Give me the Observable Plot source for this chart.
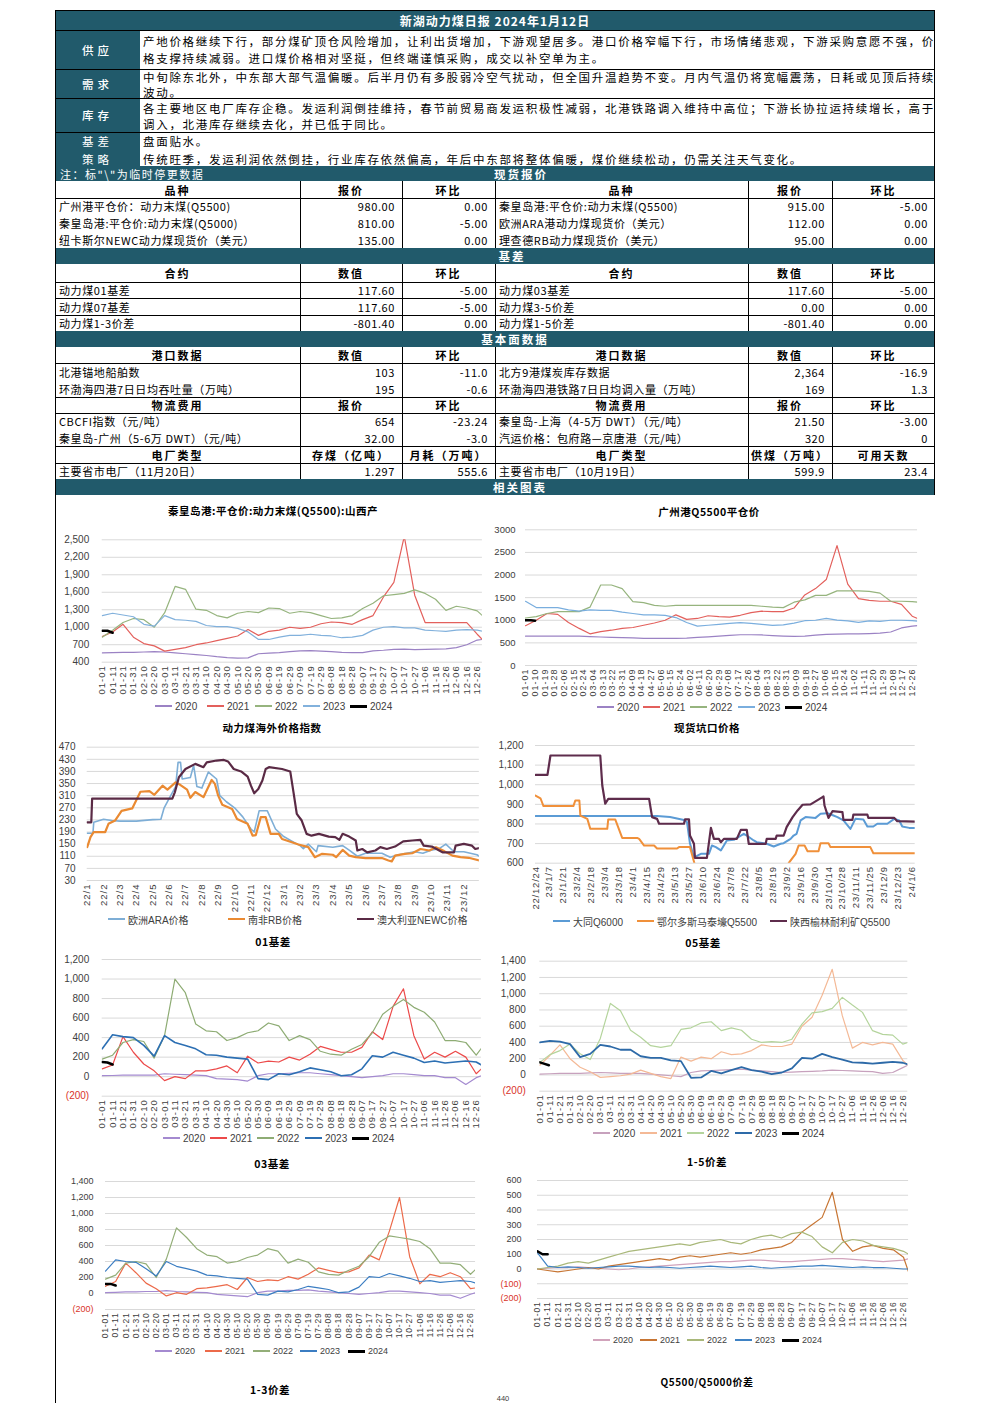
<!DOCTYPE html>
<html><head><meta charset="utf-8">
<script src="https://cdn.jsdelivr.net/npm/d3@7"></script>
<script src="https://cdn.jsdelivr.net/npm/@observablehq/plot@0.6"></script>
<style>
html,body{margin:0;padding:0;background:#fff;}
#page{position:relative;width:992px;height:1403px;overflow:hidden;background:#fff;font-family:"Noto Sans CJK SC","Noto Sans",sans-serif;color:#000;}
#page div{box-sizing:border-box;}
</style>
</head><body><div id="page"></div>
<script>
// ---------------- DATA ----------------
const reportTitle = "新湖动力煤日报 2024年1月12日";
const supplyLines = ["产地价格继续下行，部分煤矿顶仓风险增加，让利出货增加，下游观望居多。港口价格窄幅下行，市场情绪悲观，下游采购意愿不强，价","格支撑持续减弱。进口煤价格相对坚挺，但终端谨慎采购，成交以补空单为主。"];
const demandLines = ["中旬除东北外，中东部大部气温偏暖。后半月仍有多股弱冷空气扰动，但全国升温趋势不变。月内气温仍将宽幅震荡，日耗或见顶后持续","波动。"];
const stockLines = ["各主要地区电厂库存企稳。发运利润倒挂维持，春节前贸易商发运积极性减弱，北港铁路调入维持中高位；下游长协拉运持续增长，高于","调入，北港库存继续去化，并已低于同比。"];
const basisLine = "盘面贴水。";
const strategyLine = "传统旺季，发运利润依然倒挂，行业库存依然偏高，年后中东部将整体偏暖，煤价继续松动，仍需关注天气变化。";

const priceHeader = ["品种","报价","环比","品种","报价","环比"];
const priceRows = [
 ["广州港平仓价：动力末煤(Q5500)","980.00","0.00","秦皇岛港:平仓价:动力末煤(Q5500)","915.00","-5.00"],
 ["秦皇岛港:平仓价:动力末煤(Q5000)","810.00","-5.00","欧洲ARA港动力煤现货价（美元）","112.00","0.00"],
 ["纽卡斯尔NEWC动力煤现货价（美元）","135.00","0.00","理查德RB动力煤现货价（美元）","95.00","0.00"]];
const basisHeader = ["合约","数值","环比","合约","数值","环比"];
const basisRows = [
 ["动力煤01基差","117.60","-5.00","动力煤03基差","117.60","-5.00"],
 ["动力煤07基差","117.60","-5.00","动力煤3-5价差","0.00","0.00"],
 ["动力煤1-3价差","-801.40","0.00","动力煤1-5价差","-801.40","0.00"]];
const portHeader = ["港口数据","数值","环比","港口数据","数值","环比"];
const portRows = [
 ["北港锚地船舶数","103","-11.0","北方9港煤炭库存数据","2,364","-16.9"],
 ["环渤海四港7日日均吞吐量（万吨）","195","-0.6","环渤海四港铁路7日日均调入量（万吨）","169","1.3"]];
const logiHeader = ["物流费用","报价","环比","物流费用","报价","环比"];
const logiRows = [
 ["CBCFI指数（元/吨）","654","-23.24","秦皇岛-上海（4-5万 DWT）（元/吨）","21.50","-3.00"],
 ["秦皇岛-广州（5-6万 DWT）（元/吨）","32.00","-3.0","汽运价格：包府路—京唐港（元/吨）","320","0"]];
const plantHeader = ["电厂类型","存煤（亿吨）","月耗（万吨）","电厂类型","供煤（万吨）","可用天数"];
const plantRows = [["主要省市电厂（11月20日）","1.297","555.6","主要省市电厂（10月19日）","599.9","23.4"]];

const years = ["2020","2021","2022","2023","2024"];
const dayLabels10 = ["01-01","01-11","01-21","01-31","02-10","02-20","03-01","03-11","03-21","03-31","04-10","04-20","04-30","05-10","05-20","05-30","06-09","06-19","06-29","07-09","07-19","07-29","08-08","08-18","08-28","09-07","09-17","09-27","10-07","10-17","10-27","11-06","11-16","11-26","12-06","12-16","12-26"];
const dayLabels9 = ["01-01","01-10","01-19","01-28","02-06","02-15","02-24","03-04","03-13","03-22","03-31","04-09","04-18","04-27","05-06","05-15","05-24","06-02","06-11","06-20","06-29","07-08","07-17","07-26","08-04","08-13","08-22","08-31","09-09","09-18","09-27","10-06","10-15","10-24","11-02","11-11","11-20","11-29","12-08","12-17","12-26"];
const monthLabels = ["22/1","22/2","22/3","22/4","22/5","22/6","22/7","22/8","22/9","22/10","22/11","22/12","23/1","23/2","23/3","23/4","23/5","23/6","23/7","23/8","23/9","23/10","23/11","23/12"];
const pitLabels = ["22/12/24","23/1/7","23/1/21","23/2/4","23/2/18","23/3/4","23/3/18","23/4/1","23/4/15","23/4/29","23/5/13","23/5/27","23/6/10","23/6/24","23/7/8","23/7/22","23/8/5","23/8/19","23/9/2","23/9/16","23/9/30","23/10/14","23/10/28","23/11/11","23/11/25","23/12/9","23/12/23","24/1/6"];

// Chart 1: 秦皇岛港 Q5500 山西产 (values every 10 days, last = 12-31)
const qhd2020 = [560,565,570,570,575,580,575,560,545,530,515,495,480,470,475,545,555,565,580,595,600,590,580,570,565,565,595,605,620,625,615,620,625,630,650,700,780,790];
const qhd2021 = [840,920,1050,830,720,680,590,620,650,700,730,770,810,850,960,860,930,950,1000,980,1000,1060,1090,1080,1050,1130,1200,1520,1770,2560,1550,1080,1080,1080,1080,1080,880,790];
const qhd2022 = [830,950,1080,1150,1130,1000,1250,1700,1650,1310,1290,1200,1160,1240,1270,1250,1330,1320,1240,1270,1250,1200,1150,1160,1200,1320,1410,1540,1560,1580,1640,1580,1480,1290,1360,1330,1280,1200];
const qhd2023 = [1200,1240,1210,1180,1050,1020,1200,1130,1120,1100,1030,1010,1010,980,920,790,790,830,860,860,880,860,850,820,830,860,950,1000,1010,990,990,950,940,930,950,960,950,930];
const qhd2024Days = [0,5,10], qhd2024 = [940,940,905];

// Chart 2: 广州港 Q5500
const gz2020 = [650,650,650,650,650,650,640,630,620,615,610,600,600,600,600,605,620,635,650,665,680,680,675,660,650,645,650,670,690,695,700,700,705,715,740,830,870,880];
const gz2021 = [880,1000,1150,1130,950,820,700,750,780,820,840,890,940,1000,1120,1020,1040,1100,1080,1070,1110,1170,1200,1190,1190,1270,1560,1700,1900,2650,1800,1480,1440,1420,1420,1350,1090,1040];
const gz2022 = [1050,1080,1150,1190,1190,1190,1290,1780,1780,1700,1410,1390,1330,1310,1330,1330,1330,1330,1330,1330,1330,1330,1310,1290,1280,1400,1450,1550,1550,1650,1650,1650,1640,1600,1420,1420,1410,1400];
const gz2023 = [1420,1280,1280,1280,1230,1200,1230,1220,1220,1180,1150,1120,1120,1110,1060,950,870,890,910,930,950,930,910,885,900,935,990,1000,1040,1005,985,955,985,975,1000,1000,990,980];
const gz2024Days = [0,5,9], gz2024 = [1000,1000,990];

// Chart 3: overseas index, [months since 2022-01, value]
const araIdx = [[0,186],[0.35,186],[0.4,222],[1,232],[1.5,228],[2,226],[3,226],[4,231],[4.5,232],[4.7,270],[5,300],[5.4,340],[5.55,420],[5.7,420],[5.8,365],[6.3,370],[6.5,410],[6.7,340],[7,335],[7.4,388],[7.9,365],[8.1,310],[8.5,290],[9,270],[9.5,240],[10,200],[10.2,190],[10.5,260],[11,260],[11.5,200],[12,175],[12.5,160],[13,145],[13.2,135],[13.5,150],[14,125],[14.1,145],[15,140],[15.6,145],[16,130],[16.5,110],[17,120],[18,120],[18.5,107],[19,115],[19.5,120],[20,125],[20.5,120],[21,130],[21.5,135],[21.9,150],[22.4,125],[23,125],[23.8,115],[23.95,110]];
const rbIdx = [[0,140],[0.2,173],[0.4,190],[1.1,190],[1.3,217],[1.7,228],[2.1,260],[2.75,268],[3.25,323],[3.8,325],[4.1,313],[4.6,343],[4.9,330],[5.4,354],[5.7,345],[6.1,330],[6.3,303],[6.6,322],[7.1,305],[7.6,362],[7.8,349],[8,310],[8.25,280],[8.85,266],[9.15,233],[9.8,217],[10.1,178],[10.3,180],[10.6,239],[10.9,239],[11.2,184],[11.7,184],[11.9,167],[12.5,156],[12.9,149],[13.5,140],[13.9,107],[14.35,118],[15,115],[15.2,107],[15.6,131],[16,112],[16.4,107],[17,104],[18,104],[18.4,96],[18.6,93],[18.8,112],[19.4,118],[19.85,120],[20.35,134],[20.9,129],[21.3,140],[21.8,127],[22.3,112],[22.8,107],[23.3,105],[23.95,96]];
const newcIdx = [[0,222],[0.25,222],[0.3,300],[5.2,300],[5.35,321],[5.6,371],[6,398],[6.6,415],[7.1,404],[7.3,420],[7.9,426],[8.35,428],[8.6,423],[8.95,398],[9.4,390],[9.8,373],[10,343],[10.2,318],[10.45,332],[10.7,360],[10.9,398],[11.1,404],[11.9,398],[12.4,390],[12.6,321],[12.8,250],[13.1,228],[13.4,184],[13.7,178],[14.15,184],[14.75,175],[15.15,173],[15.4,164],[15.6,184],[16,175],[16.4,162],[16.5,129],[16.8,134],[17.1,123],[17.6,129],[17.9,140],[18.3,134],[18.8,142],[19.3,159],[19.85,162],[20.35,164],[20.55,145],[21.05,142],[21.5,129],[21.7,123],[22.4,123],[22.5,145],[23,151],[23.5,145],[23.7,134],[23.95,137]];

// Chart 4: pit-mouth prices, [days since 2022-12-24, value]
const datong = [[0,840],[122,840],[135,835],[149,820],[152,810],[155,700],[159,630],[166,648],[174,648],[177,690],[181,682],[186,665],[192,716],[199,719],[209,750],[212,741],[219,716],[222,707],[232,699],[239,685],[246,699],[249,702],[256,724],[259,741],[262,750],[266,818],[271,835],[281,831],[286,852],[293,855],[299,843],[303,835],[309,818],[316,775],[321,826],[329,823],[333,787],[339,787],[343,801],[353,801],[360,826],[365,818],[368,787],[375,780],[381,780]];
const ordos = [[0,945],[5,931],[8,891],[38,891],[40,920],[44,920],[45,843],[52,826],[55,775],[72,775],[73,823],[80,823],[87,729],[102,729],[104,724],[109,690],[119,690],[122,675],[142,675],[144,682],[155,682],[160,590],[170,560],[200,550],[230,560],[250,580],[254,600],[261,648],[264,690],[270,690],[273,661],[284,661],[286,702],[294,702],[296,682],[336,682],[339,651],[381,651]];
const yulin = [[0,1050],[12,1050],[15,1149],[65,1149],[66,1073],[67,996],[70,903],[73,928],[114,928],[117,835],[122,826],[124,801],[149,801],[150,823],[154,823],[155,741],[159,699],[160,627],[172,627],[176,780],[179,724],[184,724],[186,707],[189,724],[202,724],[206,770],[212,770],[214,699],[231,699],[232,724],[241,724],[242,741],[249,741],[252,784],[258,835],[263,869],[268,898],[276,900],[281,915],[288,937],[289,940],[290,894],[294,831],[298,865],[308,860],[309,821],[318,821],[319,848],[333,848],[334,831],[360,831],[363,814],[381,812]];

// Chart 5: 01 basis
const b01_2020 = [10,12,15,15,15,15,30,25,20,15,10,-20,-25,-30,-45,10,30,30,35,40,40,30,20,10,0,-10,0,10,30,30,20,10,10,-10,-10,-80,-10,10];
const b01_2021 = [80,120,410,250,130,60,-40,0,-20,60,60,80,110,40,210,140,160,150,200,170,230,310,280,250,250,300,460,380,720,900,420,180,250,200,260,200,30,80];
const b01_2022 = [180,220,350,380,360,190,420,1000,860,540,470,460,370,400,450,470,550,520,370,420,380,260,230,220,280,330,450,640,720,790,710,660,560,370,370,350,220,290];
const b01_2023 = [285,430,410,400,320,210,420,350,320,285,225,220,200,190,180,-20,-30,30,20,50,90,70,50,10,20,80,215,200,250,220,190,145,160,140,150,160,150,120];
const b01_2024Days = [0,5,10], b01_2024 = [150,145,125];

// Chart 6: 05 basis
const b05_2020 = [10,15,20,20,20,25,30,25,20,20,20,10,0,-10,-20,30,50,55,60,65,70,60,50,40,30,35,40,45,50,60,55,50,45,40,20,30,90,120];
const b05_2021 = [120,240,370,200,95,40,-30,-20,-10,10,60,20,-20,-45,220,170,220,200,285,250,260,300,370,350,350,380,600,710,980,1300,730,330,400,370,400,380,180,120];
const b05_2022 = [155,250,300,380,260,190,450,880,790,550,465,360,340,360,560,580,640,655,545,580,550,440,400,410,400,440,625,765,780,820,955,860,770,545,500,490,380,400];
const b05_2023 = [400,420,410,380,220,260,370,350,310,310,230,210,210,180,170,-35,-30,50,20,60,95,60,40,10,30,80,210,200,260,220,190,155,150,140,150,160,150,130];
const b05_2024Days = [0,4,9], b05_2024 = [155,140,120];

// Chart 7: 03 basis
const b03_2020 = [10,15,20,20,25,25,35,25,20,15,10,-10,-20,-30,-40,10,30,30,40,40,45,30,20,10,0,-10,0,10,30,30,20,10,0,-20,-20,-60,-10,10];
const b03_2021 = [90,150,380,260,130,60,-30,10,-10,60,70,90,110,50,200,150,170,160,210,180,240,320,290,260,270,320,480,420,780,1200,460,120,240,210,260,210,60,70];
const b03_2022 = [180,230,380,400,370,200,430,820,700,560,480,460,380,400,450,480,560,530,380,430,390,270,240,230,290,340,460,640,720,700,680,650,560,380,380,360,240,300];
const b03_2023 = [280,420,400,390,310,220,400,340,310,280,230,220,200,190,180,-10,-20,30,20,50,90,70,50,10,20,80,210,200,250,220,190,150,160,140,150,160,150,130];
const b03_2024Days = [0,5,10], b03_2024 = [120,120,100];

// Chart 8: 1-5 spread
const s15_2020 = [0,5,10,10,15,10,5,0,-5,0,10,15,20,25,30,35,40,45,50,50,55,60,60,55,50,50,55,60,65,70,70,65,60,55,50,55,60,70];
const s15_2021 = [0,-10,-20,-10,0,10,0,20,30,40,50,60,70,60,80,90,80,90,100,110,100,110,130,140,150,180,250,300,350,520,200,120,150,160,140,130,80,-20];
const s15_2022 = [0,10,20,40,50,40,60,80,100,120,130,140,150,160,170,160,180,190,200,180,170,200,220,230,210,240,250,220,150,110,180,200,190,160,150,140,120,100];
const s15_2023 = [110,20,10,15,10,5,10,15,20,20,15,10,15,10,5,10,15,20,15,10,15,20,10,5,10,15,20,20,25,20,15,10,15,10,10,5,0,0];
const s15_2024Days = [0,5,10], s15_2024 = [120,100,100];

// ---------------- HELPERS ----------------
const page = document.getElementById("page");
const TEAL = "#215a6b";
function box(x, y, w, h, css) {
  const d = document.createElement("div");
  d.style.cssText = `position:absolute;left:${x}px;top:${y}px;width:${w}px;height:${h}px;` + (css || "");
  page.appendChild(d); return d;
}
function cell(x, y, w, h, s, align, css) {
  const d = box(x, y, w, h, `display:flex;align-items:center;white-space:nowrap;justify-content:${align === "left" ? "flex-start" : align === "right" ? "flex-end" : "center"};` + (css || ""));
  d.textContent = s; return d;
}
function hline(x1, x2, y, c) { box(x1, y, x2 - x1, 1, `background:${c || "#000"};`); }
function vline(x, y1, y2, c) { box(x, y1, 1, y2 - y1, `background:${c || "#000"};`); }

// ---------------- TABLES ----------------
const textCss = "font-size:11.5px;letter-spacing:1.7px;line-height:13px;";
box(55, 10, 880, 20, `background:${TEAL};`);
cell(55, 10, 880, 20, reportTitle, "center", "color:#fff;font-weight:700;font-size:12px;letter-spacing:1px;");
const topRows = [[31, 69, ["供应"], supplyLines, [41, 58]], [69, 98, ["需求"], demandLines, [77, 92]], [98, 132, ["库存"], stockLines, [108, 124]]];
for (const [y1, y2, lab, lines, ys] of topRows) {
  box(55, y1, 85, y2 - y1, `background:${TEAL};`);
  cell(55, y1, 85, y2 - y1, lab[0], "center", "color:#fff;font-size:11.5px;letter-spacing:4px;font-weight:500;");
  lines.forEach((s, i) => cell(143, ys[i] - 7, 790, 14, s, "left", textCss));
}
box(55, 132, 85, 34, `background:${TEAL};`);
cell(55, 134, 85, 14, "基差", "center", "color:#fff;font-size:11.5px;letter-spacing:4px;");
cell(55, 152, 85, 14, "策略", "center", "color:#fff;font-size:11.5px;letter-spacing:4px;");
cell(143, 134, 790, 14, basisLine, "left", textCss);
cell(143, 152, 790, 14, strategyLine, "left", textCss);
[30, 69, 98, 132].forEach(y => hline(55, 935, y));

const cols = [[55, 300], [300, 402], [402, 495], [495, 748], [748, 832], [832, 935]];
const rowCss = "font-size:11px;letter-spacing:0.6px;";
function bar(y1, y2, s, cx, extraLeft) {
  box(55, y1, 880, y2 - y1, `background:${TEAL};`);
  if (s) cell(cx - 100, y1, 200, y2 - y1, s, "center", "color:#fff;font-weight:700;font-size:11.5px;letter-spacing:2px;");
  if (extraLeft) cell(60, y1, 300, y2 - y1, extraLeft, "left", "color:#fff;font-size:11px;letter-spacing:1.5px;");
}
function headerRow(y1, y2, hdr) {
  hdr.forEach((s, i) => cell(cols[i][0], y1, cols[i][1] - cols[i][0], y2 - y1, s, "center", "font-weight:700;font-size:11px;letter-spacing:2px;"));
  hline(55, 935, y2);
}
function dataRow(y1, y2, r, line) {
  r.forEach((s, i) => {
    const [a, b] = cols[i];
    if (i % 3 === 0) cell(a + 4, y1, b - a - 4, y2 - y1, s, "left", rowCss);
    else cell(a, y1, b - a - 7, y2 - y1, s, "right", rowCss);
  });
  if (line) hline(55, 935, y2);
}
function colLines(y1, y2) { [300, 402, 495, 748, 832].forEach(x => vline(x, y1, y2)); }

bar(166, 181, "现货报价", 521, "注：标\"\\\"为临时停更数据");
headerRow(181, 198, priceHeader);
priceRows.forEach((r, i) => dataRow(198 + i * 16.7, 198 + (i + 1) * 16.7, r, false));
colLines(181, 248);
bar(248, 264, "基差", 512);
headerRow(264, 282, basisHeader);
basisRows.forEach((r, i) => dataRow(282 + i * 16.4, 282 + (i + 1) * 16.4, r, i < 2));
colLines(264, 331);
bar(331, 347, "基本面数据", 515);
headerRow(347, 363, portHeader);
portRows.forEach((r, i) => dataRow(363 + i * 17, 363 + (i + 1) * 17, r, false));
hline(55, 935, 397);
headerRow(397, 413, logiHeader);
logiRows.forEach((r, i) => dataRow(413 + i * 16.5, 413 + (i + 1) * 16.5, r, false));
hline(55, 935, 446);
headerRow(446, 463, plantHeader);
plantRows.forEach(r => dataRow(463, 479, r, false));
colLines(347, 479);
bar(479, 495, "相关图表", 520);
vline(55, 10, 1403);
vline(934, 10, 495);
hline(55, 935, 10);

// ---------------- CHARTS ----------------
const commaFmt = d3.format(",");
const plainFmt = d3.format("d");
const parenFmt = d => d < 0 ? `(${commaFmt(-d)})` : commaFmt(d);
const regular = vals => vals.map((v, i) => ({ x: Math.min(i * 10, 365), y: v }));
const paired = (days, vals) => vals.map((v, i) => ({ x: days[i], y: v }));
const pairs = arr => arr.map(([x, y]) => ({ x, y }));

function drawChart(o) {
  const ppu = (o.xRefPx - o.x0) / (o.xRefVal - o.xmin);
  const xEndPx = o.x0 + (o.xmax - o.xmin) * ppu;
  const ml = o.x0 - o.left, mr = o.left + o.width - xEndPx;
  const mt = o.yTop - o.top, mb = o.top + o.height - o.yBot;
  const yt = d3.range(o.ymin, o.ymax + o.ystep / 2, o.ystep);
  const marks = [
    Plot.ruleY(yt, { stroke: "#d9d9d9", strokeWidth: 1 }),
    Plot.axisY(yt.filter(d => d >= 0), { tickSize: 0, tickPadding: o.ypad, tickFormat: o.yfmt, fontSize: o.yfs || 10, fill: "#404040", label: null }),
    Plot.axisX(o.xticks, { tickSize: 0, tickPadding: 3, tickRotate: -90, tickFormat: o.xfmt, fontSize: o.xfs || 9.5, fill: "#404040", label: null })
  ];
  const neg = yt.filter(d => d < 0);
  if (neg.length) marks.push(Plot.axisY(neg, { tickSize: 0, tickPadding: o.ypad, tickFormat: o.yfmt, fontSize: o.yfs || 10, fill: "#d9342b", label: null }));
  for (const s of o.series) marks.push(Plot.line(s.data, { x: "x", y: "y", stroke: s.color, strokeWidth: s.w, clip: true, strokeLinejoin: "round" }));
  const svg = Plot.plot({
    width: o.width, height: o.height, marginLeft: ml, marginRight: mr, marginTop: mt, marginBottom: mb,
    x: { domain: [o.xmin, o.xmax] }, y: { domain: [o.ymin, o.ymax] },
    style: { fontFamily: '"Liberation Sans", Arial, sans-serif', background: "transparent", overflow: "visible", color: "#404040" },
    marks
  });
  svg.style.position = "absolute"; svg.style.left = o.left + "px"; svg.style.top = o.top + "px";
  svg.querySelectorAll('g[aria-label="x-axis tick label"] text').forEach(t => t.style.letterSpacing = (o.xls || 1) + "px");
  page.appendChild(svg);
}
function title(s, cx, cy, fs) { cell(cx - 200, cy - 8, 400, 16, s, "center", `font-weight:700;font-size:${fs || 10.5}px;letter-spacing:0.5px;`); }
function legend(items, starts, cy, fs) {
  items.forEach((it, i) => {
    box(starts[i], cy - it.w / 2, 17, it.w, `background:${it.color};`);
    cell(starts[i] + 20, cy - 7, 200, 14, it.label, "left", `font-family:"Liberation Sans","Noto Sans CJK SC",sans-serif;font-size:${fs || 10}px;color:#404040;`);
  });
}
function yearSeries(arrs, colors, d24, v24, widths) {
  const out = arrs.map((a, i) => ({ data: regular(a), color: colors[i], w: (widths && widths[i]) || 1.2 }));
  out.push({ data: paired(d24, v24), color: "#000", w: 2.5 });
  return out;
}
function yearLegendItems(colors, widths) {
  return years.map((y, i) => ({ label: y, color: i === 4 ? "#000" : colors[i], w: i === 4 ? 3 : ((widths && widths[i]) || 1.5) }));
}
const tick10 = dayLabels10.map((_, i) => i * 10);
const fmt10 = d => dayLabels10[Math.round(d / 10)];
const tick9 = dayLabels9.map((_, i) => i * 9);
const fmt9 = d => dayLabels9[Math.round(d / 9)];

// Chart 1
const c1Colors = ["#9b82c4", "#e3605c", "#96b47e", "#82b1dc"];
title("秦皇岛港:平仓价:动力末煤(Q5500):山西产", 273, 510);
drawChart({ left: 55, top: 520, width: 440, height: 180, x0: 101.7, xRefVal: 360, xRefPx: 476.7, xmin: 0, xmax: 365,
  yTop: 539.3, yBot: 661.7, ymin: 400, ymax: 2500, ystep: 300, yfmt: commaFmt, ypad: 13,
  xticks: tick10, xfmt: fmt10, series: yearSeries([qhd2020, qhd2021, qhd2022, qhd2023], c1Colors, qhd2024Days, qhd2024) });
legend(yearLegendItems(c1Colors), [155, 207, 255, 303, 350], 706);

// Chart 2
const c2Colors = ["#9b82c4", "#e3605c", "#96b47e", "#7aaede"];
title("广州港Q5500平仓价", 709, 511);
drawChart({ left: 490, top: 515, width: 445, height: 185, x0: 525, xRefVal: 360, xRefPx: 911.7, xmin: 0, xmax: 365,
  yTop: 529.3, yBot: 665, ymin: 0, ymax: 3000, ystep: 500, yfmt: plainFmt, ypad: 10, yfs: 9.5,
  xticks: tick9, xfmt: fmt9, xfs: 9, series: yearSeries([gz2020, gz2021, gz2022, gz2023], c2Colors, gz2024Days, gz2024) });
legend(yearLegendItems(c2Colors), [597, 643, 690, 738, 785], 707);

// Chart 3
title("动力煤海外价格指数", 272, 727);
const c3Series = [
  { data: pairs(araIdx), color: "#7eaed6", w: 1.6, label: "欧洲ARA价格" },
  { data: pairs(rbIdx), color: "#ea8a32", w: 2.2, label: "南非RB价格" },
  { data: pairs(newcIdx), color: "#5a2a45", w: 2.2, label: "澳大利亚NEWC价格" }];
drawChart({ left: 55, top: 735, width: 440, height: 180, x0: 86.7, xRefVal: 23, xRefPx: 463.3, xmin: 0, xmax: 23.95,
  yTop: 746.7, yBot: 880, ymin: 30, ymax: 470, ystep: 40, yfmt: plainFmt, ypad: 11.7,
  xticks: monthLabels.map((_, i) => i), xfmt: d => monthLabels[Math.round(d)], series: c3Series });
legend(c3Series.map(s => ({ label: s.label, color: s.color, w: 2.5 })), [108, 228, 357], 919);
title("01基差", 273, 941);

// Chart 4
title("现货坑口价格", 707, 727);
const c4Series = [
  { data: pairs(datong), color: "#5b9bd5", w: 2, label: "大同Q6000" },
  { data: pairs(ordos), color: "#f0903a", w: 2, label: "鄂尔多斯马泰壕Q5500" },
  { data: pairs(yulin), color: "#5e2c4c", w: 2.2, label: "陕西榆林耐利矿Q5500" }];
drawChart({ left: 490, top: 735, width: 445, height: 180, x0: 535, xRefVal: 378, xRefPx: 911.7, xmin: 0, xmax: 381,
  yTop: 745, yBot: 862.7, ymin: 600, ymax: 1200, ystep: 100, yfmt: commaFmt, ypad: 12,
  xticks: pitLabels.map((_, i) => i * 14), xfmt: d => pitLabels[Math.round(d / 14)], xls: 0.8, series: c4Series });
legend(c4Series.map(s => ({ label: s.label, color: s.color, w: 2.5 })), [553, 637, 770], 921);
title("05基差", 703, 942);

// Chart 5
const c5Colors = ["#a48ad0", "#ec4a4a", "#8eac74", "#2c6fb3"];
drawChart({ left: 55, top: 950, width: 440, height: 180, x0: 101.7, xRefVal: 360, xRefPx: 475.7, xmin: 0, xmax: 365,
  yTop: 959, yBot: 1095.7, ymin: -200, ymax: 1200, ystep: 200, yfmt: parenFmt, ypad: 13,
  xticks: tick10, xfmt: fmt10, series: yearSeries([b01_2020, b01_2021, b01_2022, b01_2023], c5Colors, b01_2024Days, b01_2024, [1.2, 1.2, 1.2, 1.6]) });
legend(yearLegendItems(c5Colors, [1.5, 1.5, 1.5, 2]), [163, 210, 257, 305, 352], 1138);
title("03基差", 272, 1163);

// Chart 6
const c6Colors = ["#c7a1bd", "#f4b996", "#b4d49c", "#2d6aa8"];
drawChart({ left: 490, top: 950, width: 445, height: 180, x0: 539.3, xRefVal: 360, xRefPx: 902.3, xmin: 0, xmax: 365,
  yTop: 960.7, yBot: 1090.7, ymin: -200, ymax: 1400, ystep: 200, yfmt: parenFmt, ypad: 14,
  xticks: tick10, xfmt: fmt10, series: yearSeries([b05_2020, b05_2021, b05_2022, b05_2023], c6Colors, b05_2024Days, b05_2024, [1.2, 1.2, 1.2, 1.8]) });
legend(yearLegendItems(c6Colors, [1.5, 1.5, 1.5, 2.5]), [593, 640, 687, 735, 782], 1133);
title("1-5价差", 707, 1161);

// Chart 7
const c7Colors = ["#a48ad0", "#ec6a4a", "#93ae78", "#3b7dc2"];
drawChart({ left: 55, top: 1170, width: 440, height: 175, x0: 105, xRefVal: 360, xRefPx: 470, xmin: 0, xmax: 365,
  yTop: 1181, yBot: 1309, ymin: -200, ymax: 1400, ystep: 200, yfmt: parenFmt, ypad: 12, yfs: 9,
  xticks: tick10, xfmt: fmt10, xfs: 8.5, xls: 0.8, series: yearSeries([b03_2020, b03_2021, b03_2022, b03_2023], c7Colors, b03_2024Days, b03_2024) });
legend(yearLegendItems(c7Colors), [155, 205, 253, 300, 348], 1351, 9);
title("1-3价差", 270, 1389);

// Chart 8
const c8Colors = ["#d1a3bb", "#c77533", "#a9b87a", "#3f82c4"];
drawChart({ left: 490, top: 1170, width: 445, height: 165, x0: 537, xRefVal: 360, xRefPx: 903, xmin: 0, xmax: 365,
  yTop: 1180, yBot: 1298, ymin: -200, ymax: 600, ystep: 100, yfmt: parenFmt, ypad: 16, yfs: 9,
  xticks: tick10, xfmt: fmt10, xfs: 8.5, xls: 0.8, series: yearSeries([s15_2020, s15_2021, s15_2022, s15_2023], c8Colors, s15_2024Days, s15_2024) });
legend(yearLegendItems(c8Colors), [593, 640, 687, 735, 782], 1340, 9);
title("Q5500/Q5000价差", 707, 1381, 10);
cell(490, 1393, 26, 10, "440", "center", 'font-family:"Liberation Sans",sans-serif;font-size:7.5px;color:#404040;');
</script>
</body></html>
